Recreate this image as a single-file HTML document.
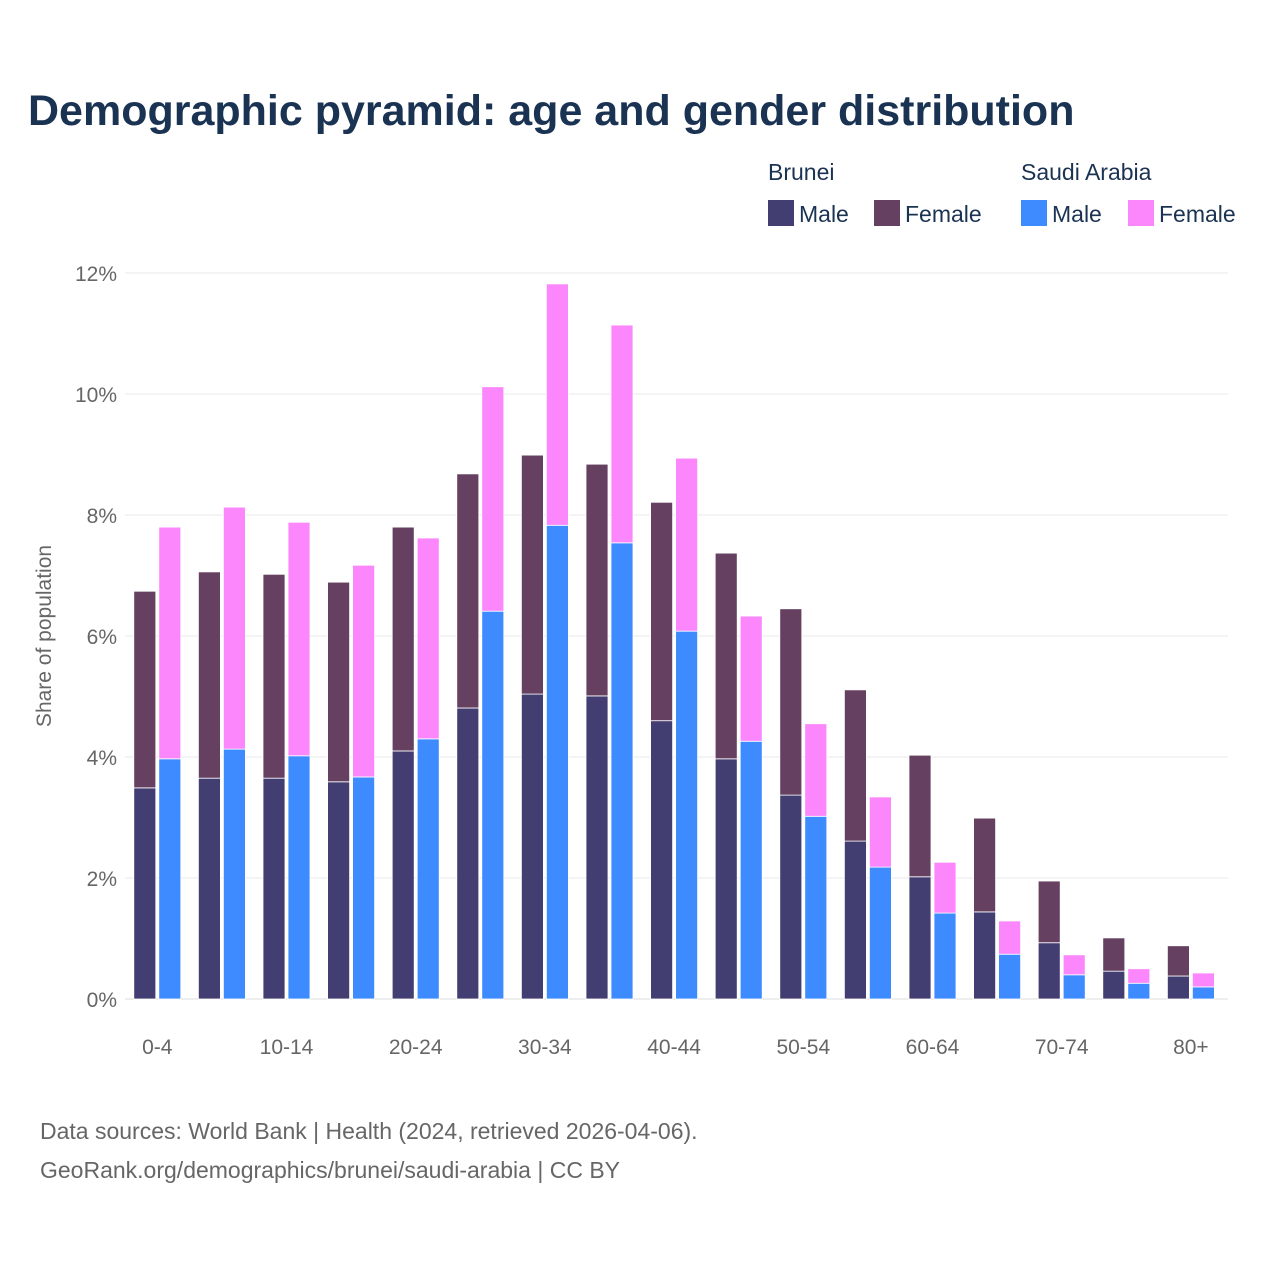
<!DOCTYPE html>
<html><head><meta charset="utf-8"><style>
body{margin:0;background:#fff;font-family:"Liberation Sans",sans-serif;}
svg text{font-family:"Liberation Sans",sans-serif;}
</style></head><body>
<svg id="chart" width="1280" height="1280" xmlns="http://www.w3.org/2000/svg">
<rect width="1280" height="1280" fill="#fff"/>
<text x="28" y="125" font-size="43" font-weight="bold" fill="#1b3353">Demographic pyramid: age and gender distribution</text>
<g font-size="23" fill="#1b3353">
<text x="768" y="180">Brunei</text>
<text x="1021" y="180">Saudi Arabia</text>
<rect x="768" y="200" width="26" height="26" fill="#433e72"/>
<text x="799" y="222">Male</text>
<rect x="874" y="200" width="26" height="26" fill="#664060"/>
<text x="905" y="222">Female</text>
<rect x="1021" y="200" width="26" height="26" fill="#3d8bff"/>
<text x="1052" y="222">Male</text>
<rect x="1128" y="200" width="26" height="26" fill="#fc86fc"/>
<text x="1159" y="222">Female</text>
</g>
<text transform="translate(51,636) rotate(-90)" text-anchor="middle" font-size="21" fill="#666">Share of population</text>
<g id="grid"></g><g id="bars"></g><g id="xt"></g>
<text x="40" y="1139" font-size="23" fill="#666">Data sources: World Bank | Health (2024, retrieved 2026-04-06).</text>
<text x="40" y="1178" font-size="23" fill="#666">GeoRank.org/demographics/brunei/saudi-arabia | CC BY</text>
</svg>
<script>
const categories=["0-4","5-9","10-14","15-19","20-24","25-29","30-34","35-39","40-44","45-49","50-54","55-59","60-64","65-69","70-74","75-79","80+"];
const bruneiMale=[3.49,3.65,3.65,3.59,4.10,4.81,5.04,5.01,4.60,3.97,3.37,2.61,2.02,1.44,0.93,0.46,0.38];
const bruneiFemale=[3.25,3.41,3.37,3.30,3.70,3.87,3.95,3.83,3.61,3.40,3.08,2.50,2.01,1.55,1.02,0.55,0.50];
const saudiMale=[3.97,4.13,4.02,3.67,4.30,6.41,7.83,7.54,6.08,4.26,3.02,2.18,1.42,0.74,0.40,0.26,0.20];
const saudiFemale=[3.83,4.00,3.86,3.50,3.32,3.71,3.99,3.60,2.86,2.07,1.53,1.16,0.84,0.55,0.33,0.24,0.23];
const yTicks=[0,2,4,6,8,10,12];
const xTickLabels=["0-4","10-14","20-24","30-34","40-44","50-54","60-64","70-74","80+"];
const NS="http://www.w3.org/2000/svg";
const x0=125,x1=1228,y0=999,yTop=273;
const band=64.6;
const y=v=>y0-(v/12)*(y0-yTop);
const xc=c=>x0+(categories.indexOf(c)+0.5)*band;
function mk(t,a,p){const e=document.createElementNS(NS,t);for(const k in a)e.setAttribute(k,a[k]);p.appendChild(e);return e;}
const grid=document.getElementById('grid');
yTicks.forEach(t=>{
 const l=mk('line',{x1:x0,x2:x1,y1:y(t),y2:y(t),stroke:t===0?'#ddd':'#e8e8e8','stroke-width':1},grid);
 
 
 const tx=mk('text',{x:117,y:y(t)+8,'text-anchor':'end','font-size':21,fill:'#666'},grid);
 tx.textContent=t+'%';
 
 
});
const bars=document.getElementById('bars');
const w=22;
categories.forEach((c,i)=>{
 const cx=xc(c);
 const segs=[[cx-23.5,0,bruneiMale[i],'#433e72','brunei-male'],[cx-23.5,bruneiMale[i],bruneiMale[i]+bruneiFemale[i],'#664060','brunei-female'],
  [cx+1.5,0,saudiMale[i],'#3d8bff','saudi-male'],[cx+1.5,saudiMale[i],saudiMale[i]+saudiFemale[i],'#fc86fc','saudi-female']];
 segs.forEach(s=>{
  const r=mk('rect',{x:s[0],y:y(s[2]),width:w,height:y(s[1])-y(s[2]),fill:s[3],stroke:'#fff','stroke-width':0.8},bars);
  
  
 });
});
const xt=document.getElementById('xt');
xTickLabels.forEach(c=>{
 const t=mk('text',{x:xc(c),y:1054,'text-anchor':'middle','font-size':21,fill:'#666'},xt);
 t.textContent=c;
 
 
});
</script>
</body></html>
